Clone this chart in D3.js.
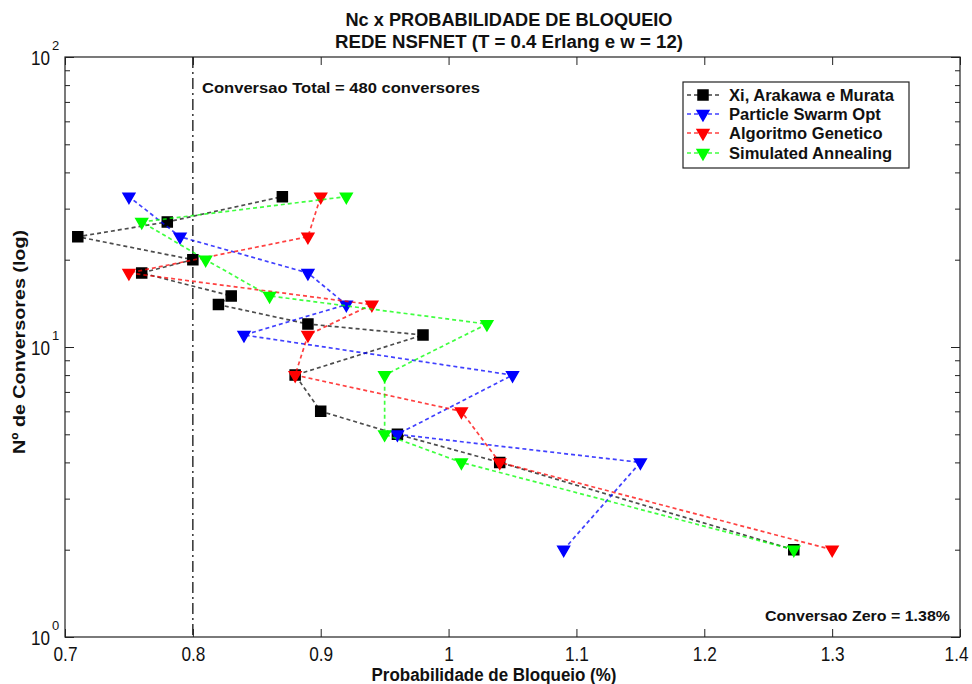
<!DOCTYPE html>
<html>
<head>
<meta charset="utf-8">
<script src="https://cdn.jsdelivr.net/npm/d3@7"></script>
<style>
  html, body { margin: 0; padding: 0; background: #fff; }
  svg { display: block; font-family: "Liberation Sans", Arial, sans-serif; }
</style>
</head>
<body>
<svg id="chart" width="972" height="684"></svg>
<script>
// ---------------- DATA ----------------
const titleLines = ["Nc x PROBABILIDADE DE BLOQUEIO", "REDE NSFNET (T = 0.4 Erlang e w = 12)"];
const xLabel = "Probabilidade de Bloqueio (%)";
const yLabel = "Nº de Conversores (log)";
const xTicks = [0.7, 0.8, 0.9, 1.0, 1.1, 1.2, 1.3, 1.4];
const xTickLabels = ["0.7", "0.8", "0.9", "1", "1.1", "1.2", "1.3", "1.4"];
const yMajor = [1, 10, 100];
const yMajorExp = ["0", "1", "2"];
const yMinor = [2, 3, 4, 5, 6, 7, 8, 9, 20, 30, 40, 50, 60, 70, 80, 90];

const seriesNames = ["Xi, Arakawa e Murata", "Particle Swarm Opt", "Algoritmo Genetico", "Simulated Annealing"];
const seriesColors = ["#000000", "#0000ff", "#ff0000", "#00ff00"];
const seriesMarkers = ["square", "triangle", "triangle", "triangle"];

const xiNc  = [2, 4, 5, 6, 8, 11, 12, 14, 15, 18, 20, 24, 27, 33];
const xiPb  = [1.27, 1.04, 0.96, 0.90, 0.88, 0.98, 0.89, 0.82, 0.83, 0.76, 0.80, 0.71, 0.78, 0.87];
const psoNc = [2, 4, 5, 8, 11, 14, 18, 24, 33];
const psoPb = [1.09, 1.15, 0.96, 1.05, 0.84, 0.92, 0.89, 0.79, 0.75];
const agNc  = [2, 4, 6, 8, 11, 14, 18, 24, 33];
const agPb  = [1.30, 1.04, 1.01, 0.88, 0.89, 0.94, 0.75, 0.89, 0.90];
const saNc  = [2, 4, 5, 8, 12, 15, 20, 27, 33];
const saPb  = [1.27, 1.01, 0.95, 0.95, 1.03, 0.86, 0.81, 0.76, 0.92];

const refLineX = 0.8;
const noteTotal = "Conversao Total = 480 conversores";
const noteZero = "Conversao Zero = 1.38%";

// ---------------- LAYOUT ----------------
const L = 65, R = 960, T = 57, B = 637;
const svg = d3.select("#chart");
const x = d3.scaleLinear().domain([0.7, 1.4]).range([L, R]);
const y = d3.scaleLog().domain([1, 100]).range([B, T]);

const allSeries = [
  { nc: xiNc, pb: xiPb },
  { nc: psoNc, pb: psoPb },
  { nc: agNc, pb: agPb },
  { nc: saNc, pb: saPb }
].map((s, i) => ({
  name: seriesNames[i], color: seriesColors[i], marker: seriesMarkers[i],
  pts: s.nc.map((n, j) => ({ n, p: s.pb[j] }))
}));

function narrow(sel, w) {
  sel.attr("textLength", w).attr("lengthAdjust", "spacingAndGlyphs");
}

// Axes box
svg.append("rect").attr("x", L).attr("y", T).attr("width", R - L).attr("height", B - T)
  .attr("fill", "#fff").attr("stroke", "#222").attr("stroke-width", 1.2);

// X ticks (bottom & top, inward)
const xAxisB = d3.axisBottom(x).tickValues(xTicks).tickSizeInner(-8).tickSizeOuter(0)
  .tickFormat((d, i) => xTickLabels[i]).tickPadding(10);
const gxb = svg.append("g").attr("transform", `translate(0,${B})`).call(xAxisB);
gxb.select(".domain").remove();
gxb.selectAll(".tick line").attr("stroke", "#222");
gxb.selectAll(".tick text").attr("font-size", 21).attr("fill", "#111")
  .attr("font-family", "'Liberation Sans', Arial, sans-serif")
  .attr("dy", "0.71em").attr("y", 9)
  .each(function (d, i) {
    const t = d3.select(this);
    const w = this.getComputedTextLength() * 0.82;
    narrow(t, w);
    if (i === xTicks.length - 1) t.attr("text-anchor", "end").attr("x", 968 - x(d));
  });

const xAxisT = d3.axisTop(x).tickValues(xTicks).tickSizeInner(-8).tickSizeOuter(0).tickFormat("");
const gxt = svg.append("g").attr("transform", `translate(0,${T})`).call(xAxisT);
gxt.select(".domain").remove();
gxt.selectAll(".tick line").attr("stroke", "#222");

// Y ticks (left & right, inward)
[[d3.axisLeft, L], [d3.axisRight, R]].forEach(([fn, pos]) => {
  const gMaj = svg.append("g").attr("transform", `translate(${pos},0)`)
    .call(fn(y).tickValues(yMajor).tickSizeInner(-9).tickSizeOuter(0).tickFormat(""));
  gMaj.select(".domain").remove();
  gMaj.selectAll(".tick line").attr("stroke", "#222");
  const gMin = svg.append("g").attr("transform", `translate(${pos},0)`)
    .call(fn(y).tickValues(yMinor).tickSizeInner(-5).tickSizeOuter(0).tickFormat(""));
  gMin.select(".domain").remove();
  gMin.selectAll(".tick line").attr("stroke", "#222");
});

// Y tick labels 10^n (single text with superscript tspan)
yMajor.forEach((v, i) => {
  const t = svg.append("text").attr("x", 31).attr("y", y(v) + 8).attr("fill", "#111");
  const base = t.append("tspan").attr("font-size", 21).text("10");
  narrow(base, 19);
  t.append("tspan").attr("font-size", 13).attr("dx", 2).attr("dy", -15).text(yMajorExp[i]);
});

// Reference dash-dot line
svg.append("line").attr("x1", x(refLineX)).attr("x2", x(refLineX))
  .attr("y1", T).attr("y2", B).attr("stroke", "#111").attr("stroke-width", 1.3)
  .attr("stroke-dasharray", "11,4,2,4");

// Series
const line = d3.line().x(d => x(d.p)).y(d => y(d.n));
const sqSym = d3.symbol().type(d3.symbolSquare).size(100);
const triSym = d3.symbol().type(d3.symbolTriangle).size(60);

allSeries.forEach(s => {
  svg.append("path").datum(s.pts).attr("d", line)
    .attr("fill", "none").attr("stroke", s.color).attr("stroke-width", 1.7)
    .attr("stroke-opacity", s.color === "#000000" ? 0.7 : 0.75)
    .attr("stroke-dasharray", "4,3");
  svg.append("g").selectAll("path").data(s.pts).join("path")
    .attr("transform", d => s.marker === "square"
      ? `translate(${x(d.p)},${y(d.n)})`
      : `translate(${x(d.p)},${y(d.n)}) rotate(180)`)
    .attr("d", s.marker === "square" ? sqSym : triSym)
    .attr("fill", s.color).attr("stroke", s.color).attr("stroke-width", 1.5);
});

// Notes
narrow(svg.append("text").attr("x", 202).attr("y", 93).attr("font-size", 15)
  .attr("font-weight", "bold").attr("fill", "#111").text(noteTotal), 278);
narrow(svg.append("text").attr("x", 765).attr("y", 621).attr("font-size", 15)
  .attr("font-weight", "bold").attr("fill", "#111").text(noteZero), 185);

// Legend
const lg = svg.append("g");
lg.append("rect").attr("x", 683).attr("y", 82).attr("width", 226).attr("height", 86)
  .attr("fill", "#fff").attr("stroke", "#222").attr("stroke-width", 1.2);
const legendRowsY = [95, 114, 133, 153];
let legendFactor = null;
allSeries.forEach((s, i) => {
  const ly = legendRowsY[i];
  lg.append("line").attr("x1", 687).attr("x2", 720).attr("y1", ly).attr("y2", ly)
    .attr("stroke", s.color).attr("stroke-width", 1.7).attr("stroke-dasharray", "4,3")
    .attr("stroke-opacity", 0.75);
  lg.append("path")
    .attr("transform", s.marker === "square" ? `translate(703,${ly})` : `translate(703,${ly}) rotate(180)`)
    .attr("d", s.marker === "square" ? sqSym : triSym)
    .attr("fill", s.color).attr("stroke", s.color).attr("stroke-width", 1.5);
  const t = lg.append("text").attr("x", 729).attr("y", ly + 5.5).attr("font-size", 16)
    .attr("font-weight", "bold").attr("fill", "#111").text(s.name);
  const len = t.node().getComputedTextLength();
  if (legendFactor === null) legendFactor = 165 / len;
  narrow(t, len * legendFactor);
});

// Title
const cx = 509;
narrow(svg.append("text").attr("x", cx).attr("y", 26).attr("text-anchor", "middle")
  .attr("font-size", 18).attr("font-weight", "bold").attr("fill", "#111").text(titleLines[0]), 327);
narrow(svg.append("text").attr("x", cx).attr("y", 48).attr("text-anchor", "middle")
  .attr("font-size", 18).attr("font-weight", "bold").attr("fill", "#111").text(titleLines[1]), 348);

// Axis labels
narrow(svg.append("text").attr("x", 494).attr("y", 681).attr("text-anchor", "middle")
  .attr("font-size", 18).attr("font-weight", "bold").attr("fill", "#111").text(xLabel), 245);
narrow(svg.append("text").attr("transform", "translate(25,342) rotate(-90)").attr("text-anchor", "middle")
  .attr("font-size", 17).attr("font-weight", "bold").attr("fill", "#111").text(yLabel), 224);
</script>
</body>
</html>
